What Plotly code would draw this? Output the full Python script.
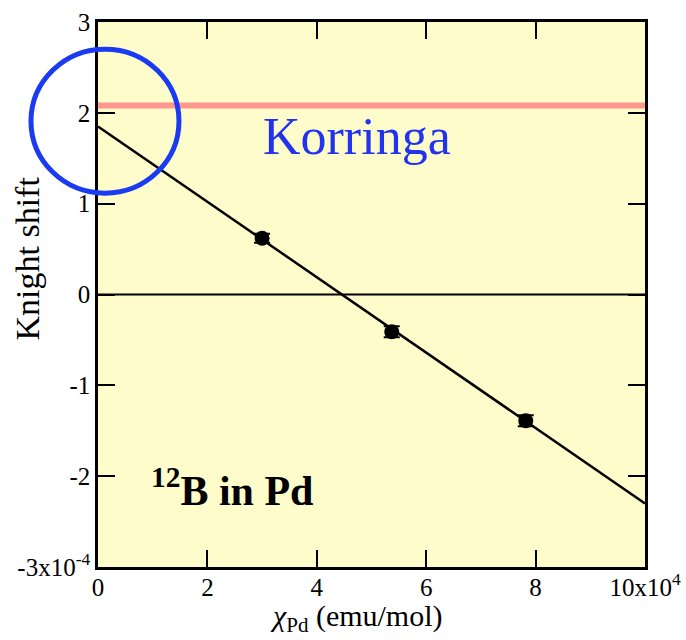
import plotly.graph_objects as go

# Data (x in 1e4 emu/mol, y in 1e-4)
chi_pd = [3.0, 5.37, 7.82]
knight = [0.62, -0.41, -1.39]
knight_err = [0.05, 0.06, 0.06]
fit_x = [0.0, 10.0]
fit_y = [1.85, -2.30]
korringa_x = [0.0, 10.0]
korringa_y = [2.08, 2.08]

x_ticks = [0, 2, 4, 6, 8, 10]
x_ticktext = ["0", "2", "4", "6", "8", "10x10<sup>4</sup>"]
y_ticks = [-3, -2, -1, 0, 1, 2, 3]
y_ticktext = ["-3x10<sup>-4</sup>", "-2", "-1", "0", "1", "2", "3"]

FONT = "Liberation Serif, Times New Roman, serif"

fig = go.Figure()
fig.add_trace(go.Scatter(x=[0, 10], y=[0, 0], mode="lines",
                         line=dict(color="black", width=2), hoverinfo="skip"))
fig.add_trace(go.Scatter(x=korringa_x, y=korringa_y, mode="lines",
                         line=dict(color="#FF9690", width=6), cliponaxis=False))
fig.add_trace(go.Scatter(x=fit_x, y=fit_y, mode="lines",
                         line=dict(color="black", width=2.5)))
fig.add_trace(go.Scatter(x=chi_pd, y=knight, mode="markers",
                         marker=dict(color="black", size=15),
                         error_y=dict(type="data", array=knight_err, color="black",
                                      thickness=2, width=8)))

axis_common = dict(showline=True, linecolor="black", linewidth=2.5, mirror="ticks",
                   ticks="inside", ticklen=17, tickwidth=2, tickcolor="black",
                   showgrid=False, zeroline=False, automargin=False,
                   tickfont=dict(family=FONT, size=25, color="black"))

fig.update_layout(
    width=686, height=640,
    margin=dict(l=98, r=41, t=22, b=73, autoexpand=False),
    paper_bgcolor="white", plot_bgcolor="#FFFCCB",
    showlegend=False,
    xaxis=dict(range=[0, 10], tickvals=x_ticks, ticktext=x_ticktext,
               ticklabelstandoff=-4, **axis_common),
    yaxis=dict(range=[-3, 3], tickvals=y_ticks, ticktext=y_ticktext, **axis_common),
    font=dict(family=FONT, color="black"),
    shapes=[dict(type="circle", xref="paper", yref="paper",
                 x0=-0.1225, x1=0.148, y0=0.686, y1=0.950,
                 line=dict(color="#1A3BF2", width=5))],
    annotations=[
        dict(text="Korringa", x=0.4735, y=0.789, xref="paper", yref="paper",
             xanchor="center", yanchor="middle",
             showarrow=False, font=dict(family=FONT, size=52, color="#2233EE")),
        dict(text="<b><sup>12</sup>B in Pd</b>", x=0.245, y=0.145, xref="paper", yref="paper",
             xanchor="center", yanchor="middle",
             showarrow=False, font=dict(family=FONT, size=42, color="black")),
        dict(text="Knight shift", x=-0.128, y=0.566, xref="paper", yref="paper",
             xanchor="center", yanchor="middle",
             showarrow=False, textangle=-90, font=dict(family=FONT, size=34, color="black")),
        dict(text="<i>χ</i><sub>Pd</sub> (emu/mol)", x=0.472, y=-0.093, xref="paper", yref="paper",
             xanchor="center", yanchor="middle",
             showarrow=False, font=dict(family=FONT, size=30, color="black")),
    ],
)

fig.write_html("out.html")
